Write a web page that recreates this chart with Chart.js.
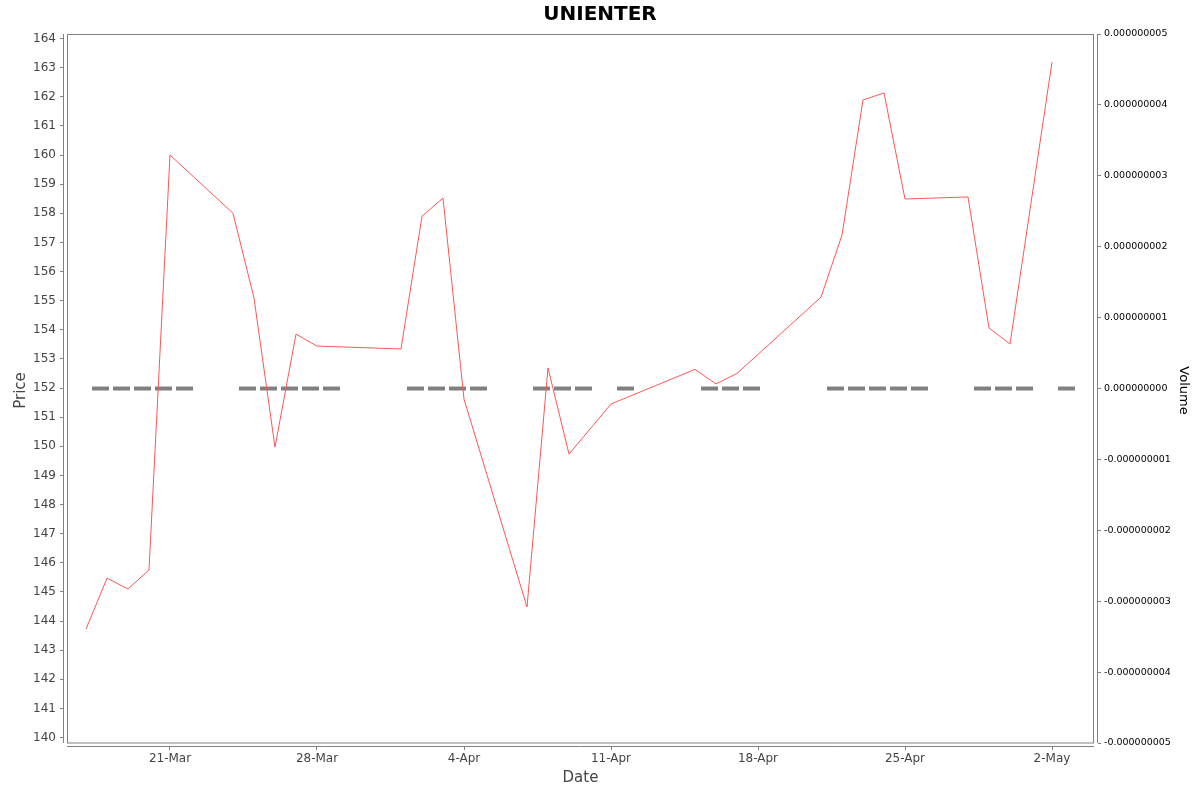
<!DOCTYPE html>
<html>
<head>
<meta charset="utf-8">
<script src="https://cdn.jsdelivr.net/npm/chart.js@4.4.1/dist/chart.umd.min.js"></script>
<style>
  body { margin: 0; background: #fff; }
</style>
</head>
<body>
<canvas id="myChart" width="1200" height="792"></canvas>
<script>
// trading days and closing prices
const dates = [
  '2025-03-17', '2025-03-18', '2025-03-19', '2025-03-20', '2025-03-21',
  '2025-03-24', '2025-03-25', '2025-03-26', '2025-03-27', '2025-03-28',
  '2025-04-01', '2025-04-02', '2025-04-03', '2025-04-04',
  '2025-04-07', '2025-04-08', '2025-04-09', '2025-04-11',
  '2025-04-15', '2025-04-16', '2025-04-17',
  '2025-04-21', '2025-04-22', '2025-04-23', '2025-04-24', '2025-04-25',
  '2025-04-28', '2025-04-29', '2025-04-30', '2025-05-02',
];
const price = [
  143.72, 145.47, 145.10, 145.75, 160.00,
  158.00, 155.09, 149.97, 153.85, 153.44,
  153.34, 157.90, 158.52, 151.62,
  144.48, 152.69, 149.73, 151.45,
  152.64, 152.14, 152.50,
  155.12, 157.25, 161.89, 162.13, 158.49,
  158.56, 154.06, 153.51, 163.19,
];
const volume = dates.map(() => 0);

const tickDates = [
  '2025-03-21', '2025-03-28', '2025-04-04', '2025-04-11',
  '2025-04-18', '2025-04-25', '2025-05-02',
];
const tickLabels = ['21-Mar', '28-Mar', '4-Apr', '11-Apr', '18-Apr', '25-Apr', '2-May'];
const priceTicks = [140, 141, 142, 143, 144, 145, 146, 147, 148, 149, 150, 151, 152,
  153, 154, 155, 156, 157, 158, 159, 160, 161, 162, 163, 164];
const volumeTicks = [-5e-9, -4e-9, -3e-9, -2e-9, -1e-9, 0, 1e-9, 2e-9, 3e-9, 4e-9, 5e-9];

const DAY = 86400000;
const base = Date.parse('2025-03-21');
const dayOf = (d) => (Date.parse(d) - base) / DAY;
const volOffset = 0.69; // volume bars sit just right of the trading day

const grey = '#808080';

// inner frame plus the detached axis lines
const framePlugin = {
  id: 'frame',
  beforeDatasetsDraw(chart) {
    const { ctx, chartArea: a } = chart;
    ctx.save();
    ctx.strokeStyle = grey;
    ctx.lineWidth = 1;
    ctx.strokeRect(a.left + 4.5, a.top + 0.5, a.right - a.left - 9, a.bottom - a.top - 4.5);
    ctx.beginPath();
    ctx.moveTo(a.left + 0.5, a.top);
    ctx.lineTo(a.left + 0.5, a.bottom - 4);
    ctx.moveTo(a.right - 0.5, a.top);
    ctx.lineTo(a.right - 0.5, a.bottom - 4);
    ctx.moveTo(a.left + 4, a.bottom - 0.5);
    ctx.lineTo(a.right - 4, a.bottom - 0.5);
    ctx.stroke();
    ctx.restore();
  },
};

const ctx = document.getElementById('myChart');

new Chart(ctx, {
  type: 'line',
  data: {
    datasets: [
      {
        label: 'Price',
        data: dates.map((d, i) => ({ x: dayOf(d), y: price[i] })),
        borderColor: '#ff5555',
        borderWidth: 1,
        pointRadius: 0,
        tension: 0,
        yAxisID: 'y',
      },
      {
        label: 'Volume',
        data: dates.map((d, i) => ({ x: dayOf(d) + volOffset, y: volume[i] })),
        showLine: false,
        pointStyle: 'line',
        pointRadius: 8.5,
        pointBorderWidth: 4,
        pointBorderColor: grey,
        pointBackgroundColor: grey,
        yAxisID: 'y2',
      },
    ],
  },
  options: {
    responsive: false,
    animation: false,
    layout: { padding: 0 },
    plugins: {
      legend: { display: false },
      tooltip: { enabled: false },
      title: {
        display: true,
        text: 'UNIENTER',
        color: '#000',
        font: { family: '"DejaVu Sans"', size: 20, weight: 'bold' },
        padding: { top: 3, bottom: 7 },
      },
    },
    scales: {
      x: {
        type: 'linear',
        min: -5.095,
        max: 44.19,
        afterBuildTicks: (s) => { s.ticks = tickDates.map((d) => ({ value: dayOf(d) })); },
        afterFit: (s) => { s.height = 45; },
        ticks: {
          callback: (v, i) => tickLabels[i],
          autoSkip: false,
          maxRotation: 0,
          padding: 2,
          color: '#444',
          font: { family: '"DejaVu Sans"', size: 12 },
        },
        grid: { drawOnChartArea: false, tickLength: 3, color: grey },
        border: { display: false },
        title: {
          display: true,
          text: 'Date',
          color: '#444',
          font: { family: '"DejaVu Sans"', size: 15 },
          padding: { top: 0, bottom: 5 },
        },
      },
      y: {
        position: 'left',
        min: 139.674,
        max: 164.155,
        afterBuildTicks: (s) => { s.ticks = priceTicks.map((v) => ({ value: v })); },
        afterFit: (s) => { s.width = 63; },
        ticks: {
          padding: 4,
          color: '#444',
          font: { family: '"DejaVu Sans"', size: 12 },
        },
        grid: { drawOnChartArea: false, tickLength: 3, color: grey },
        border: { display: false },
        title: {
          display: true,
          text: 'Price',
          color: '#444',
          font: { family: '"DejaVu Sans"', size: 15 },
          padding: { top: 12, bottom: 0 },
        },
      },
      y2: {
        position: 'right',
        min: -5.056e-9,
        max: 5e-9,
        afterBuildTicks: (s) => { s.ticks = volumeTicks.map((v) => ({ value: v })); },
        afterFit: (s) => { s.width = 102; },
        ticks: {
          callback: (v) => v.toFixed(9),
          padding: 3,
          color: '#000',
          font: { family: '"DejaVu Sans"', size: 9.5 },
        },
        grid: { drawOnChartArea: false, tickLength: 3, color: grey },
        border: { display: false },
        title: {
          display: true,
          text: 'Volume',
          color: '#000',
          font: { family: '"DejaVu Sans"', size: 13 },
          padding: { top: 9, bottom: 0 },
        },
      },
    },
  },
  plugins: [framePlugin],
});
</script>
</body>
</html>
